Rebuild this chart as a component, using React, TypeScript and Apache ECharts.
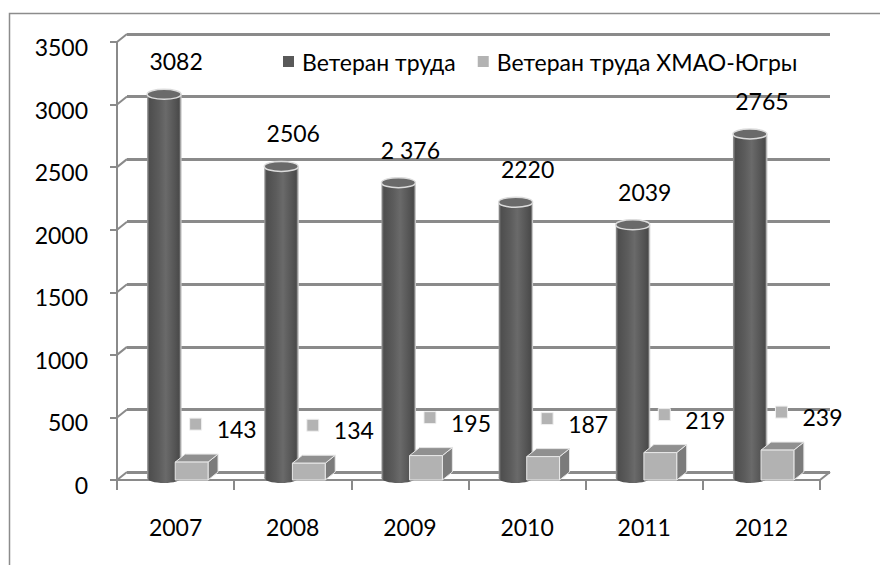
import React, { useEffect, useRef } from "react";
import * as echarts from "echarts";

const years = ["2007", "2008", "2009", "2010", "2011", "2012"];
const veteran = [3082, 2506, 2376, 2220, 2039, 2765];
const veteranLabels = ["3082", "2506", "2 376", "2220", "2039", "2765"];
const veteranKhmao = [143, 134, 195, 187, 219, 239];
const yTicks = [0, 500, 1000, 1500, 2000, 2500, 3000, 3500];
const seriesNames = ["Ветеран труда", "Ветеран труда ХМАО-Югры"];

const FONT = "Lato, 'Noto Sans', sans-serif";
const FS = 23;
const DEPTH_X = 10;
const DEPTH_Y = 8;
const GRID_COLOR = "#8a8a8a";

export default function App() {
  const ref = useRef<HTMLDivElement>(null);

  useEffect(() => {
    if (!ref.current) return;
    const chart = echarts.init(ref.current, undefined, { renderer: "svg" });

    const cylGrad = () =>
      new echarts.graphic.LinearGradient(0, 0, 1, 0, [
        { offset: 0, color: "#9c9c9c" },
        { offset: 0.07, color: "#4e4e4e" },
        { offset: 0.35, color: "#5c5c5c" },
        { offset: 0.55, color: "#6a6a6a" },
        { offset: 0.85, color: "#525252" },
        { offset: 0.94, color: "#4a4a4a" },
        { offset: 1, color: "#a8a8a8" },
      ]);

    const option: any = {
      animation: false,
      graphic: [
        {
          type: "rect",
          z: -10,
          shape: { x: 9.5, y: 13.5, width: 1000, height: 1000 },
          style: { fill: "none", stroke: "#8c8c8c", lineWidth: 1.5 },
        },
      ],
      legend: {
        data: seriesNames,
        left: 278,
        top: 45,
        icon: "rect",
        itemWidth: 11,
        itemHeight: 11,
        itemGap: 22,
        textStyle: { fontFamily: FONT, fontSize: FS, color: "#000", padding: [0, 0, 0, 3] },
      },
      grid: [
        { left: 117, right: 60, top: 42, bottom: 85 },
        { left: 117 + DEPTH_X, right: 60 - DEPTH_X, top: 42 - DEPTH_Y, bottom: 85 + DEPTH_Y },
      ],
      xAxis: [
        {
          type: "category",
          gridIndex: 0,
          data: years,
          boundaryGap: true,
          axisLine: { show: true, lineStyle: { color: GRID_COLOR, width: 2 } },
          axisTick: { show: true, length: 10, lineStyle: { color: GRID_COLOR, width: 2 } },
          axisLabel: { margin: 35, fontFamily: FONT, fontSize: FS, color: "#000" },
          splitLine: { show: false },
        },
        {
          type: "category",
          gridIndex: 1,
          data: years,
          show: false,
        },
      ],
      yAxis: [
        {
          type: "value",
          gridIndex: 0,
          min: 0,
          max: 3500,
          interval: 500,
          axisLine: { show: true, lineStyle: { color: GRID_COLOR, width: 2 } },
          axisTick: { show: true, length: 7, lineStyle: { color: GRID_COLOR, width: 2 } },
          axisLabel: { show: false },
          splitLine: { show: false },
        },
        {
          type: "value",
          gridIndex: 1,
          min: 0,
          max: 3500,
          interval: 500,
          axisLine: { show: false },
          axisTick: { show: false },
          axisLabel: { show: false },
          splitLine: { show: true, lineStyle: { color: GRID_COLOR, width: 3 } },
        },
      ],
      series: [
        {
          type: "custom",
          name: "axis",
          xAxisIndex: 0,
          yAxisIndex: 0,
          silent: true,
          z: 1,
          data: yTicks.map((v) => [0, v]),
          renderItem: (params: any, api: any) => {
            const v = api.value(1);
            const y = api.coord([0, v])[1];
            const cs = params.coordSys;
            const children: any[] = [
              {
                type: "line",
                shape: { x1: cs.x, y1: y, x2: cs.x + DEPTH_X, y2: y - DEPTH_Y },
                style: { stroke: GRID_COLOR, lineWidth: 2 },
              },
              {
                type: "text",
                style: {
                  text: String(v),
                  x: cs.x - 29,
                  y: y + 5,
                  align: "right",
                  verticalAlign: "middle",
                  fontFamily: FONT,
                  fontSize: FS,
                  fill: "#000",
                },
              },
            ];
            if (v === 0) {
              children.push({
                type: "line",
                shape: {
                  x1: cs.x + cs.width,
                  y1: y,
                  x2: cs.x + cs.width + DEPTH_X,
                  y2: y - DEPTH_Y,
                },
                style: { stroke: GRID_COLOR, lineWidth: 2 },
              });
            }
            return { type: "group", children };
          },
        },
        {
          type: "custom",
          name: seriesNames[0],
          xAxisIndex: 0,
          yAxisIndex: 0,
          z: 3,
          itemStyle: { color: "#595959" },
          data: veteran.map((v, i) => [i, v]),
          renderItem: (params: any, api: any) => {
            const i = api.value(0);
            const v = api.value(1);
            const top = api.coord([i, v]);
            const base = api.coord([i, 0]);
            const band = api.size([1, 0])[0];
            const cx = top[0] - band * 0.098;
            const w = band * 0.29;
            const rx = w / 2;
            const ry = 5;
            return {
              type: "group",
              children: [
                {
                  type: "ellipse",
                  shape: { cx, cy: base[1] - 2, rx, ry },
                  style: { fill: cylGrad() },
                },
                {
                  type: "rect",
                  shape: { x: cx - rx, y: top[1], width: w, height: base[1] - 2 - top[1] },
                  style: { fill: cylGrad() },
                },
                {
                  type: "line",
                  shape: { x1: cx + rx, y1: top[1], x2: cx + rx, y2: base[1] - 2 },
                  style: { stroke: "#c8c8c8", lineWidth: 1 },
                },
                {
                  type: "ellipse",
                  shape: { cx, cy: top[1], rx, ry },
                  style: { fill: "#6a6a6a", stroke: "#dcdcdc", lineWidth: 1.5 },
                },
                {
                  type: "text",
                  style: {
                    text: veteranLabels[i],
                    x: cx + 12,
                    y: top[1] - 33,
                    align: "center",
                    verticalAlign: "middle",
                    fontFamily: FONT,
                    fontSize: FS,
                    fill: "#000",
                  },
                },
              ],
            };
          },
        },
        {
          type: "custom",
          name: seriesNames[1],
          xAxisIndex: 0,
          yAxisIndex: 0,
          z: 4,
          itemStyle: { color: "#b3b3b3" },
          data: veteranKhmao.map((v, i) => [i, v]),
          renderItem: (params: any, api: any) => {
            const i = api.value(0);
            const v = api.value(1);
            const top = api.coord([i, v]);
            const base = api.coord([i, 0]);
            const band = api.size([1, 0])[0];
            const cx = top[0] + band * 0.137;
            const w = band * 0.28;
            const x0 = cx - w / 2;
            const x1 = cx + w / 2;
            const yt = top[1];
            const yb = base[1];
            return {
              type: "group",
              children: [
                {
                  type: "polygon",
                  shape: {
                    points: [
                      [x1, yt],
                      [x1 + DEPTH_X, yt - DEPTH_Y],
                      [x1 + DEPTH_X, yb - DEPTH_Y],
                      [x1, yb],
                    ],
                  },
                  style: { fill: "#7b7b7b", stroke: "#e6e6e6", lineWidth: 1 },
                },
                {
                  type: "polygon",
                  shape: {
                    points: [
                      [x0, yt],
                      [x0 + DEPTH_X, yt - DEPTH_Y],
                      [x1 + DEPTH_X, yt - DEPTH_Y],
                      [x1, yt],
                    ],
                  },
                  style: { fill: "#909090", stroke: "#e6e6e6", lineWidth: 1 },
                },
                {
                  type: "rect",
                  shape: { x: x0, y: yt, width: w, height: yb - yt },
                  style: { fill: "#b2b2b2", stroke: "#e8e8e8", lineWidth: 1 },
                },
                {
                  type: "rect",
                  shape: { x: cx - 2, y: yt - 44, width: 12, height: 12 },
                  style: { fill: "#b3b3b3", stroke: "#f0f0f0", lineWidth: 1 },
                },
                {
                  type: "text",
                  style: {
                    text: String(veteranKhmao[i]),
                    x: cx + 25,
                    y: yt - 33,
                    align: "left",
                    verticalAlign: "middle",
                    fontFamily: FONT,
                    fontSize: FS,
                    fill: "#000",
                  },
                },
              ],
            };
          },
        },
      ],
    };

    chart.setOption(option);
    return () => chart.dispose();
  }, []);

  return (
    <div
      ref={ref}
      style={{ position: "fixed", left: 0, top: 0, width: 880, height: 565, background: "#fff" }}
    />
  );
}
